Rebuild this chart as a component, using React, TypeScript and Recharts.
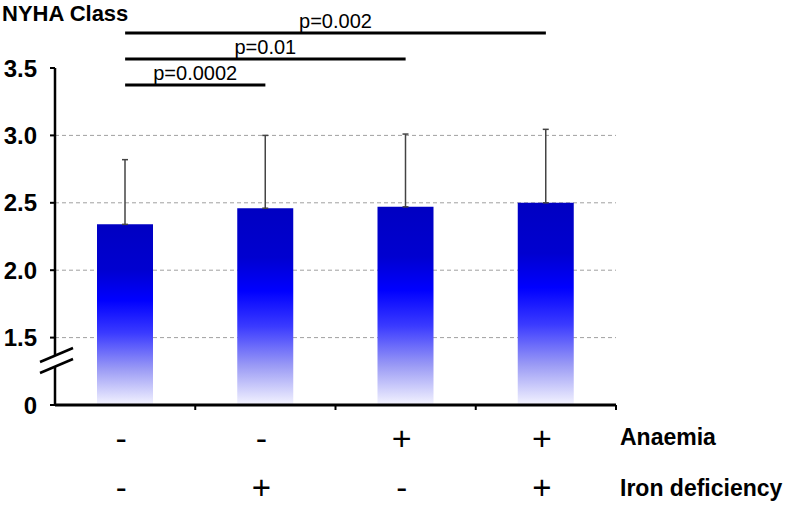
import { BarChart, Bar, XAxis, YAxis, CartesianGrid, ErrorBar, ReferenceLine } from 'recharts';

const groups = ['A-/ID-', 'A-/ID+', 'A+/ID-', 'A+/ID+'];
const anaemia = ['-', '-', '+', '+'];
const ironDeficiency = ['-', '+', '-', '+'];
const nyhaMean = [2.34, 2.46, 2.47, 2.5];
const nyhaSD = [0.48, 0.54, 0.54, 0.545];

const yTickValues = [0, 1.5, 2.0, 2.5, 3.0, 3.5];
const yTickLabels = ['0', '1.5', '2.0', '2.5', '3.0', '3.5'];
const gridValues = [1.5, 2.0, 2.5, 3.0];

const comparisons = [
  { from: 0, to: 1, y: 3.374, label: 'p=0.0002' },
  { from: 0, to: 2, y: 3.567, label: 'p=0.01' },
  { from: 0, to: 3, y: 3.76, label: 'p=0.002' },
];

// broken axis: 0 sits one half-step below 1.5
const BREAK_AT = 0.33;
const Y_MAX = 2.5;
const toAxis = (v: number) => (v >= 1.5 ? v - 1 : v / 3);

const TICK_SIZE = 5;
const TICK_MARGIN = 13;
const BAND = 140.25;
const FONT = '"Liberation Sans", Arial, sans-serif';

const data = groups.map((g, i) => ({
  group: g,
  value: toAxis(nyhaMean[i]),
  err: [0, nyhaSD[i]],
}));

const yTicks = [...yTickValues.map(toAxis), BREAK_AT].sort((a, b) => a - b);

const YTick = (props: any) => {
  const { x, y, payload } = props;
  const ax = x + TICK_SIZE + TICK_MARGIN;
  if (Math.abs(payload.value - BREAK_AT) < 1e-6) {
    const cy = y;
    return (
      <g>
        <polygon
          points={`${ax - 5},${cy - 2} ${ax + 5},${cy - 6.5} ${ax + 5},${cy + 4} ${ax - 5},${cy + 8.5}`}
          fill="#fff"
        />
        <line x1={ax - 15} y1={cy + 1.5} x2={ax + 18} y2={cy - 12.5} stroke="#000" strokeWidth={2.5} />
        <line x1={ax - 15} y1={cy + 12.5} x2={ax + 18} y2={cy - 1.5} stroke="#000" strokeWidth={2.5} />
      </g>
    );
  }
  const idx = yTickValues.findIndex((v) => Math.abs(toAxis(v) - payload.value) < 1e-6);
  return (
    <g>
      <line x1={ax - TICK_SIZE} y1={y} x2={ax} y2={y} stroke="#000" strokeWidth={2} />
      <text x={x} y={y} dy="0.36em" textAnchor="end" fontFamily={FONT} fontWeight="bold" fontSize={24} fill="#000">
        {idx >= 0 ? yTickLabels[idx] : ''}
      </text>
    </g>
  );
};

const XTick = (props: any) => {
  const { x, y, index } = props;
  const edge = x + BAND / 2;
  const last = index === groups.length - 1;
  return (
    <g>
      <line x1={edge} y1={y} x2={edge} y2={y + 5} stroke="#000" strokeWidth={2} />
      <text x={x - 4} y={y + 45} textAnchor="middle" fontFamily={FONT} fontSize={34} fill="#000">
        {anaemia[index]}
      </text>
      <text x={x - 4} y={y + 94} textAnchor="middle" fontFamily={FONT} fontSize={33} fill="#000">
        {ironDeficiency[index]}
      </text>
      {last && (
        <>
          <text x={edge + 4} y={y + 32} dy="0.36em" fontFamily={FONT} fontWeight="bold" fontSize={23} fill="#000">
            Anaemia
          </text>
          <text x={edge + 4} y={y + 83} dy="0.36em" fontFamily={FONT} fontWeight="bold" fontSize={23} fill="#000">
            Iron deficiency
          </text>
        </>
      )}
    </g>
  );
};

export default function App() {
  return (
    <div style={{ position: 'absolute', left: 0, top: 0, width: 786, height: 506, background: '#fff' }}>
      <div
        style={{
          position: 'absolute',
          left: 2,
          top: 3,
          fontFamily: FONT,
          fontWeight: 'bold',
          fontSize: 22,
          lineHeight: 1,
          color: '#000',
          zIndex: 2,
        }}
      >
        NYHA Class
      </div>
      <BarChart
        width={786}
        height={506}
        data={data}
        margin={{ top: 68, right: 170, bottom: 0, left: 0 }}
        barCategoryGap={0}
      >
        <defs>
          <linearGradient id="barGrad" x1="0" y1="0" x2="0" y2="1">
            <stop offset="0" stopColor="#0000c2" />
            <stop offset="0.25" stopColor="#0000d0" />
            <stop offset="0.42" stopColor="#0000ff" />
            <stop offset="0.6" stopColor="#3a3aff" />
            <stop offset="0.8" stopColor="#9a9af5" />
            <stop offset="1" stopColor="#f4f4ff" />
          </linearGradient>
        </defs>
        <CartesianGrid
          vertical={false}
          stroke="#a0a0a0"
          strokeDasharray="4 3"
          horizontalCoordinatesGenerator={({ offset }: any) =>
            gridValues.map((v) => offset.top + (1 - toAxis(v) / Y_MAX) * offset.height)
          }
        />
        <XAxis
          dataKey="group"
          type="category"
          height={101}
          axisLine={{ stroke: '#000', strokeWidth: 3 }}
          tickLine={false}
          tickSize={0}
          tickMargin={0}
          tick={<XTick />}
          interval={0}
        />
        <YAxis
          type="number"
          domain={[0, Y_MAX]}
          ticks={yTicks}
          width={55}
          allowDataOverflow
          axisLine={{ stroke: '#000', strokeWidth: 2.5 }}
          tickLine={false}
          tickSize={TICK_SIZE}
          tickMargin={TICK_MARGIN}
          tick={<YTick />}
          interval={0}
        />
        <Bar dataKey="value" fill="url(#barGrad)" barSize={56} isAnimationActive={false}>
          <ErrorBar dataKey="err" direction="y" width={3} stroke="#444" strokeWidth={1.5} isAnimationActive={false} />
        </Bar>
        {comparisons.map((c) => (
          <ReferenceLine
            key={c.label}
            segment={[
              { x: groups[c.from], y: toAxis(c.y) },
              { x: groups[c.to], y: toAxis(c.y) },
            ]}
            ifOverflow="visible"
            stroke="#000"
            strokeWidth={3}
            label={{ value: c.label, position: 'top', offset: 5, fill: '#000', fontSize: 20, fontFamily: FONT }}
          />
        ))}
      </BarChart>
    </div>
  );
}
